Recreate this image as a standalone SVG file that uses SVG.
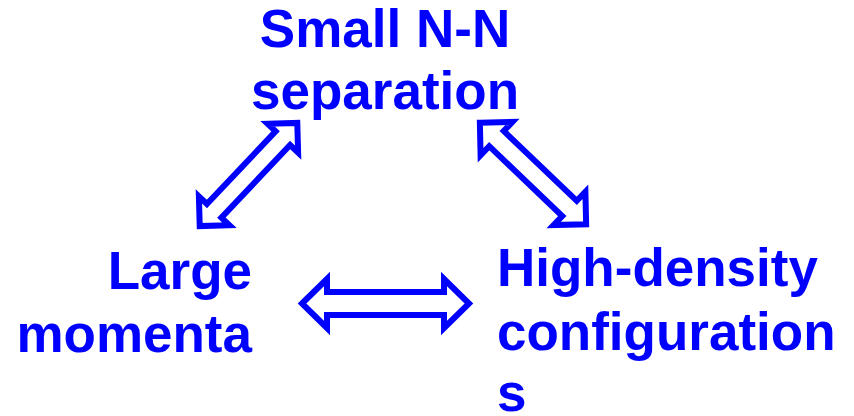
<svg xmlns="http://www.w3.org/2000/svg" width="854" height="416" viewBox="0 0 854 416">
  <style>
    .lbl { font-family: "Liberation Sans", Arial, sans-serif; font-weight: bold; font-size: 53px; fill: #0000ff; }
    .arrow { fill: #ffffff; stroke: #0000ff; stroke-width: 6; stroke-linejoin: miter; }
  </style>
  <rect width="854" height="416" fill="#ffffff"/>

  <g id="node-separation">
    <text class="lbl" x="385" y="47" text-anchor="middle">Small N-N</text>
    <text class="lbl" x="385" y="109" text-anchor="middle">separation</text>
  </g>

  <g id="node-momenta">
    <text class="lbl" x="252" y="289" text-anchor="end">Large</text>
    <text class="lbl" x="252" y="352" text-anchor="end">momenta</text>
  </g>

  <g id="node-density">
    <text class="lbl" x="497" y="286">High-density</text>
    <text class="lbl" x="497" y="350">configuration</text>
    <text class="lbl" x="497" y="411">s</text>
  </g>

  <g id="connectors">
    <!-- separation <-> momenta -->
    <path class="arrow" transform="translate(248.5,174.5) rotate(-46.6)"
          d="M-71 0 L-50 -21 V-10 H50 V-21 L71 0 L50 21 V10 H-50 V21 Z"/>
    <!-- separation <-> density -->
    <path class="arrow" transform="translate(533,173.5) rotate(43.7)"
          d="M-73.5 0 L-50.5 -23 V-10.5 H50.5 V-23 L73.5 0 L50.5 23 V10.5 H-50.5 V23 Z"/>
    <!-- momenta <-> density -->
    <path class="arrow" transform="translate(385.5,303.5)"
          d="M-83.5 0 L-58.5 -24.5 V-11.5 H58.5 V-24.5 L83.5 0 L58.5 24.5 V11.5 H-58.5 V24.5 Z"/>
  </g>
</svg>
